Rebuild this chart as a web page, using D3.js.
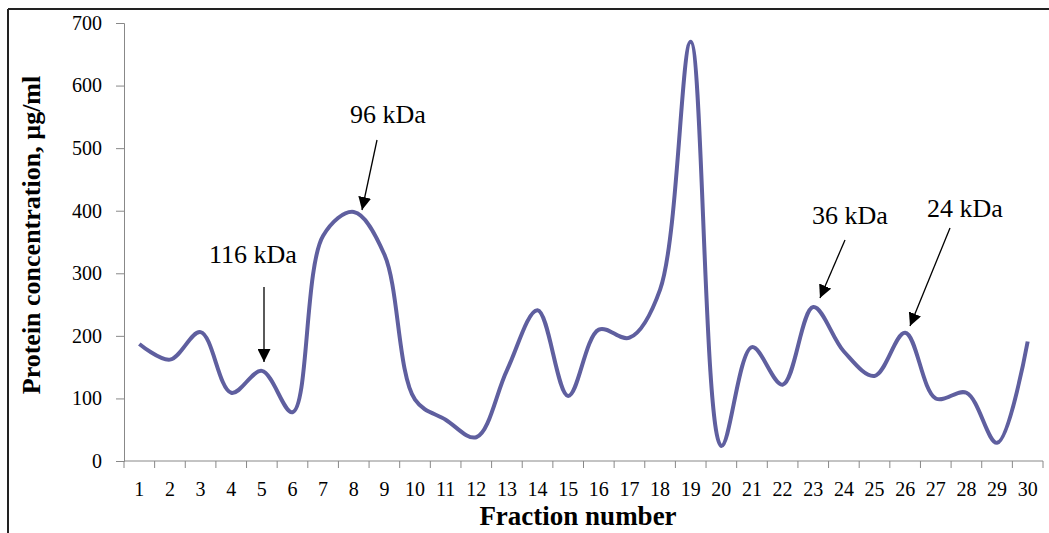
<!DOCTYPE html>
<meta charset="utf-8">
<style>
  html, body { margin: 0; padding: 0; background: #fff; }
  svg { display: block; font-family: "Liberation Serif", "Times New Roman", serif; }
  .domain, .tick line { stroke: #888; }
</style>
<svg id="chart" width="1049" height="533"></svg>
<script src="https://cdn.jsdelivr.net/npm/d3@7"></script>
<script>
  // fraction numbers on the x axis
  const fractions = d3.range(1, 31);
  // protein concentration, ug/ml
  const protein = [187, 162, 206, 109, 144, 78, 360, 398, 330, 98,
                   66, 38, 145, 241, 104, 210, 197, 274, 670, 24,
                   182, 122, 246, 175, 136, 205, 100, 109, 29, 191];
  const yTicks = [0, 100, 200, 300, 400, 500, 600, 700];
  // marker labels
  const markers = ["116 kDa", "96 kDa", "36 kDa", "24 kDa"];

  const serif = "'Liberation Serif', 'Times New Roman', serif";
  const svg = d3.select("#chart");
  const plotLeft = 124, plotRight = 1043, plotTop = 23, plotBottom = 461;

  const x = d3.scaleBand().domain(fractions).range([plotLeft, plotRight]);
  const y = d3.scaleLinear().domain([0, 700]).range([plotBottom, plotTop]);

  // frame
  svg.append("line").attr("x1", 8).attr("x2", 1049).attr("y1", 9).attr("y2", 9)
    .attr("stroke", "#222").attr("stroke-width", 2);
  svg.append("line").attr("x1", 8).attr("x2", 8).attr("y1", 9).attr("y2", 533)
    .attr("stroke", "#222").attr("stroke-width", 2);

  const yg = svg.append("g").attr("transform", `translate(${plotLeft},0)`)
    .call(d3.axisLeft(y).tickValues(yTicks).tickSize(8).tickPadding(14));

  const xg = svg.append("g").attr("transform", `translate(0,${plotBottom})`)
    .call(d3.axisBottom(x).tickSize(0).tickPadding(21));
  xg.select(".domain").attr("d", `M${plotLeft},0H${plotRight}`);
  // Excel style ticks between categories
  xg.selectAll(".cut").data(d3.range(31)).join("line")
    .attr("x1", i => plotLeft + i * x.step()).attr("x2", i => plotLeft + i * x.step())
    .attr("y1", 0).attr("y2", 7).attr("stroke", "#888");

  [xg, yg].forEach(g => g.attr("font-family", serif).attr("font-size", 20)
    .selectAll("text").attr("fill", "#000"));

  const line = d3.line()
    .x((d, i) => x(fractions[i]) + x.bandwidth() / 2)
    .y(d => y(d))
    .curve(d3.curveCatmullRom.alpha(0.5));

  svg.append("path").datum(protein)
    .attr("d", line)
    .attr("fill", "none")
    .attr("stroke", "#5f5f9f")
    .attr("stroke-width", 4)
    .attr("stroke-linejoin", "round");

  svg.append("text").attr("x", 578).attr("y", 525).attr("text-anchor", "middle")
    .attr("font-size", 27).attr("font-weight", "bold").text("Fraction number");
  svg.append("text").attr("transform", "translate(40,235) rotate(-90)")
    .attr("text-anchor", "middle").attr("font-size", 26).attr("font-weight", "bold")
    .text("Protein concentration, µg/ml");

  // arrows
  svg.append("defs").append("marker").attr("id", "head")
    .attr("viewBox", "0 0 10 10").attr("refX", 10).attr("refY", 5)
    .attr("markerWidth", 13).attr("markerHeight", 13).attr("markerUnits", "userSpaceOnUse")
    .attr("orient", "auto")
    .append("path").attr("d", "M0,0L10,5L0,10Z").attr("fill", "#000");

  const labelPos = [[253, 263], [388, 123], [850, 224], [965, 217]];
  const arrowFrom = [[264, 287], [377, 140], [845, 240], [950, 228]];
  const arrowTo = [[264, 362], [362, 210], [820, 298], [910, 326]];

  markers.forEach((m, i) => {
    svg.append("text").attr("x", labelPos[i][0]).attr("y", labelPos[i][1])
      .attr("text-anchor", "middle").attr("font-size", 26).text(m);
    svg.append("line")
      .attr("x1", arrowFrom[i][0]).attr("y1", arrowFrom[i][1])
      .attr("x2", arrowTo[i][0]).attr("y2", arrowTo[i][1])
      .attr("stroke", "#000").attr("stroke-width", 1.3)
      .attr("marker-end", "url(#head)");
  });
</script>
